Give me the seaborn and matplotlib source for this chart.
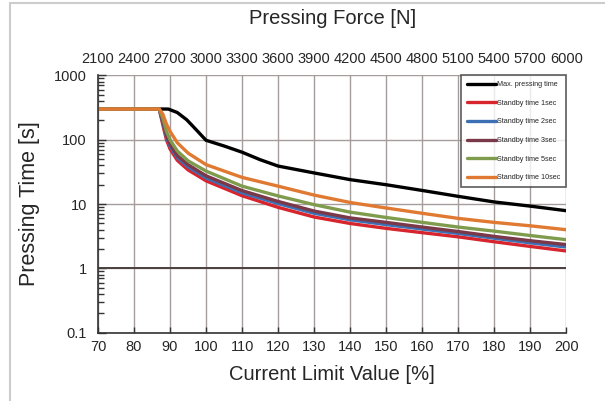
import pandas as pd
import matplotlib
matplotlib.use('Agg')
import matplotlib.pyplot as plt
from matplotlib.lines import Line2D
from matplotlib.ticker import LogLocator, NullFormatter
import seaborn as sns

sns.set_style('white')
plt.rcParams['font.family'] = ['Liberation Sans', 'DejaVu Sans']
plt.rcParams['ytick.left'] = True
plt.rcParams['xtick.bottom'] = True

# Data
x_max = [70, 89.5, 92, 94.6, 96, 100, 105, 110, 115, 120, 130, 140, 150, 160, 170, 180, 190, 200]
t_max = [300, 300, 265, 205, 170, 98, 80, 64, 49, 39, 30.5, 24, 20, 16.3, 13.2, 10.8, 9.3, 7.9]

x_std = [70, 87, 88, 89, 90, 92, 95, 100, 110, 120, 130, 140, 150, 160, 170, 180, 190, 200]
t_1s = [300, 300, 170, 100, 72, 48, 34, 23, 13.5, 8.9, 6.3, 5.0, 4.2, 3.6, 3.1, 2.6, 2.2, 1.87]
t_2s = [300, 300, 185, 110, 80, 53, 38, 25.5, 15, 10.2, 7.2, 5.7, 4.8, 4.1, 3.5, 2.95, 2.5, 2.15]
t_3s = [300, 300, 195, 118, 86, 57, 41, 27.5, 16.2, 11, 7.8, 6.1, 5.2, 4.4, 3.75, 3.15, 2.7, 2.35]
t_5s = [300, 300, 215, 135, 100, 67, 47, 32.6, 19, 13.4, 9.8, 7.5, 6.2, 5.2, 4.4, 3.8, 3.25, 2.8]
t_10s = [300, 300, 250, 175, 135, 90, 62, 41, 26, 19, 13.8, 10.6, 8.7, 7.2, 6.0, 5.2, 4.6, 4.0]

series_names = ['Max. pressing time', 'Standby time 1sec', 'Standby time 2sec',
                'Standby time 3sec', 'Standby time 5sec', 'Standby time 10sec']
colors = ['#000000', '#d8242c', '#3d6fb4', '#7a3848', '#7f9c4e', '#e07a32']

x_ticks = list(range(70, 201, 10))
force_ticks = list(range(2100, 6001, 300))
y_ticks = [0.1, 1, 10, 100, 1000]
y_labels = ['0.1', '1', '10', '100', '1000']

# long table for seaborn
frames = [pd.DataFrame({'x': x_max, 't': t_max, 'series': series_names[0]})]
for name, vals in zip(series_names[1:], [t_1s, t_2s, t_3s, t_5s, t_10s]):
    frames.append(pd.DataFrame({'x': x_std, 't': vals, 'series': name}))
df = pd.concat(frames, ignore_index=True)

fig = plt.figure(figsize=(6.05, 4.01), dpi=100)
ax = fig.add_axes([0.162, 0.17, 0.774, 0.642])

sns.lineplot(data=df, x='x', y='t', hue='series', hue_order=series_names,
             palette=dict(zip(series_names, colors)), linewidth=2.4,
             errorbar=None, ax=ax)

ax.set_yscale('log')
ax.set_xlim(70, 200)
ax.set_ylim(0.1, 1000)
ax.set_xticks(x_ticks)
ax.set_yticks(y_ticks)
ax.set_yticklabels(y_labels)
ax.yaxis.set_minor_locator(LogLocator(base=10, subs=[2, 3, 4, 5, 6, 7, 8, 9], numticks=20))
ax.yaxis.set_minor_formatter(NullFormatter())
ax.grid(True, which='major', color='#a59c9c', linewidth=1)
ax.axhline(1, color='#4a4040', linewidth=1.4, zorder=1)
ax.tick_params(axis='x', which='major', direction='in', length=4, width=1, bottom=True,
               labelsize=10.5, pad=5, color='#333333')
ax.tick_params(axis='y', which='major', direction='in', length=6, width=1, left=True,
               labelsize=10.5, pad=8, color='#333333')
ax.tick_params(axis='y', which='minor', direction='in', length=4, width=1, left=True,
               color='#333333')

for s in ['top', 'right']:
    ax.spines[s].set_visible(False)
for s in ['left', 'bottom']:
    ax.spines[s].set_color('#333333')
    ax.spines[s].set_linewidth(1.2)

ax.set_xlabel('Current Limit Value [%]', fontsize=14.5, labelpad=8)
ax.set_ylabel('Pressing Time [s]', fontsize=15.5, labelpad=10)

top = ax.secondary_xaxis('top', functions=(lambda v: v * 30, lambda f: f / 30))
top.set_xticks(force_ticks)
top.tick_params(length=0, labelsize=10.5, pad=7)
top.spines['top'].set_visible(False)
top.set_xlabel('Pressing Force [N]', fontsize=14.5, labelpad=20)

leg = ax.legend(loc='upper right', bbox_to_anchor=(1.0, 1.0), borderaxespad=0,
                fontsize=5.2, handlelength=4.0, labelspacing=1.6, handletextpad=0.2,
                fancybox=False, frameon=True, borderpad=0.8)
leg.get_frame().set_edgecolor('#333333')
leg.get_frame().set_linewidth(1.2)
for line in leg.get_lines():
    line.set_linewidth(2.4)

# light outer frame along top and left
fig.add_artist(Line2D([10 / 605, 10 / 605], [0, 1 - 3 / 401], transform=fig.transFigure,
                      color='#cccccc', linewidth=1.5))
fig.add_artist(Line2D([10 / 605, 1], [1 - 3 / 401, 1 - 3 / 401], transform=fig.transFigure,
                      color='#cccccc', linewidth=1.5))

fig.savefig('out.png', dpi=100)
